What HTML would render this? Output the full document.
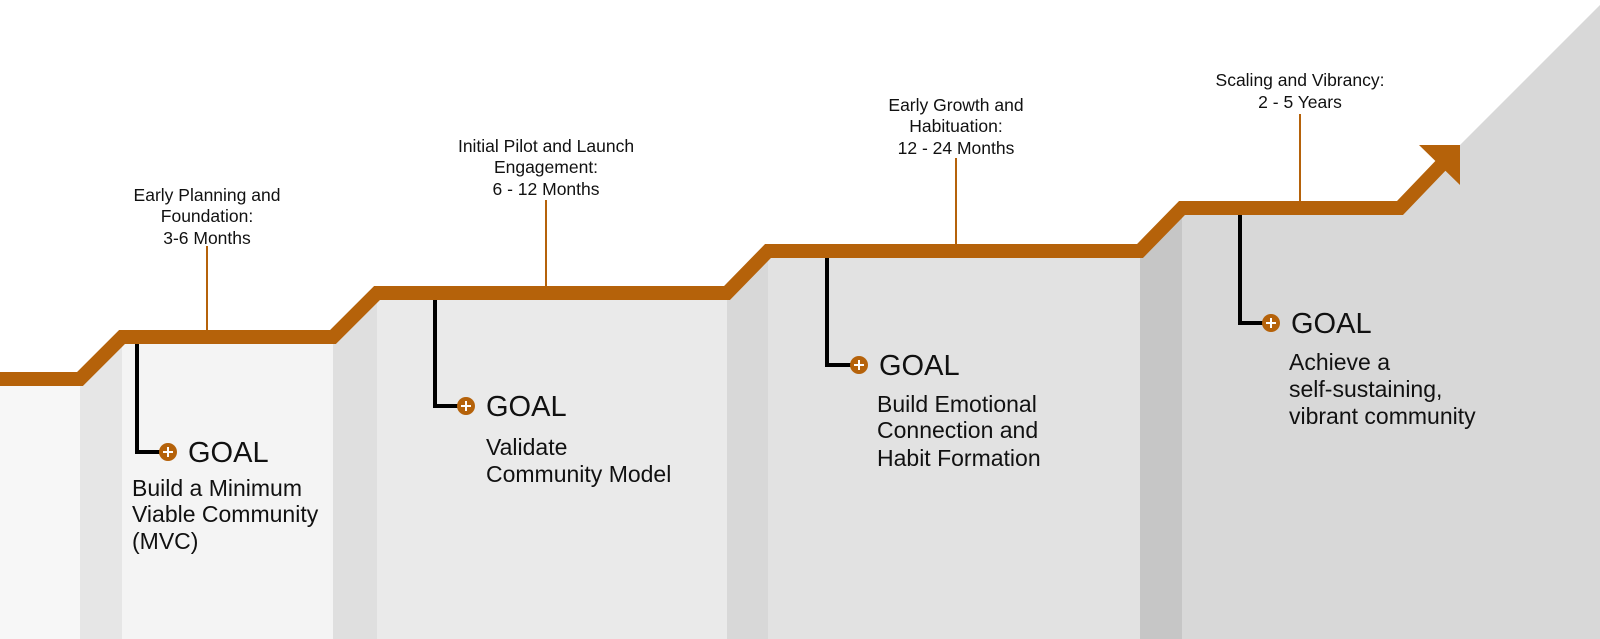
<!DOCTYPE html>
<html><head><meta charset="utf-8"><style>
html,body{margin:0;padding:0;background:#fff;}
svg{display:block;font-family:"Liberation Sans",Arial,sans-serif;}
</style></head><body>
<svg width="1600" height="639" viewBox="0 0 1600 639" xmlns="http://www.w3.org/2000/svg">
<rect width="1600" height="639" fill="#fff"/>
<polygon points="0,379 80,379 80,639 0,639" fill="#f7f7f7"/>
<polygon points="80,379 122,337 122,639 80,639" fill="#e6e6e6"/>
<polygon points="122,337 333,337 333,639 122,639" fill="#f4f4f4"/>
<polygon points="333,337 377,293 377,639 333,639" fill="#dfdfdf"/>
<polygon points="377,293 727,293 727,639 377,639" fill="#eaeaea"/>
<polygon points="727,293 768,251 768,639 727,639" fill="#d8d8d8"/>
<polygon points="768,251 1140,251 1140,639 768,639" fill="#e2e2e2"/>
<polygon points="1140,251 1182,208 1182,639 1140,639" fill="#c6c6c6"/>
<polygon points="1182,208 1400,208 1460,145 1600,5 1600,639 1182,639" fill="#d8d8d8"/>
<g stroke="#b5620a" stroke-width="2">
<line x1="207" y1="246" x2="207" y2="337"/>
<line x1="546" y1="200" x2="546" y2="293"/>
<line x1="956" y1="158" x2="956" y2="251"/>
<line x1="1300" y1="114" x2="1300" y2="208"/>
</g>
<polyline points="0,379 80,379 122,337 333,337 377,293 727,293 768,251 1140,251 1182,208 1400,208 1446,160" fill="none" stroke="#b5620a" stroke-width="14" stroke-linejoin="miter"/>
<polygon points="1419,145 1460,145 1460,185" fill="#b5620a"/>
<g stroke="#000" stroke-width="4" fill="none">
<polyline points="137,344 137,452 166,452"/>
<polyline points="435,300 435,406 464,406"/>
<polyline points="827,258 827,365 856,365"/>
<polyline points="1240,215 1240,323 1269,323"/>
</g>
<g>
<circle cx="168" cy="452" r="9" fill="#b5620a"/>
<circle cx="466" cy="406" r="9" fill="#b5620a"/>
<circle cx="859" cy="365" r="9" fill="#b5620a"/>
<circle cx="1271" cy="323" r="9" fill="#b5620a"/>
</g>
<g stroke="#fff" stroke-width="2">
<path d="M163,452h10M168,447v10"/>
<path d="M461,406h10M466,401v10"/>
<path d="M854,365h10M859,360v10"/>
<path d="M1266,323h10M1271,318v10"/>
</g>
<g font-size="17.5" fill="#111" text-anchor="middle">
<text x="207" y="201">Early Planning and</text>
<text x="207" y="222">Foundation:</text>
<text x="207" y="244">3-6 Months</text>
<text x="546" y="152">Initial Pilot and Launch</text>
<text x="546" y="173">Engagement:</text>
<text x="546" y="195">6 - 12 Months</text>
<text x="956" y="111">Early Growth and</text>
<text x="956" y="132">Habituation:</text>
<text x="956" y="154">12 - 24 Months</text>
<text x="1300" y="86">Scaling and Vibrancy:</text>
<text x="1300" y="108">2 - 5 Years</text>
</g>
<g font-size="29" fill="#111">
<text x="188" y="462">GOAL</text>
<text x="486" y="416">GOAL</text>
<text x="879" y="375">GOAL</text>
<text x="1291" y="333">GOAL</text>
</g>
<g font-size="23" fill="#111">
<text x="132" y="496">Build a Minimum</text>
<text x="132" y="522">Viable Community</text>
<text x="132" y="549">(MVC)</text>
<text x="486" y="455">Validate</text>
<text x="486" y="482">Community Model</text>
<text x="877" y="412">Build Emotional</text>
<text x="877" y="438">Connection and</text>
<text x="877" y="466">Habit Formation</text>
<text x="1289" y="370">Achieve a</text>
<text x="1289" y="397">self-sustaining,</text>
<text x="1289" y="424">vibrant community</text>
</g>
</svg>
</body></html>
